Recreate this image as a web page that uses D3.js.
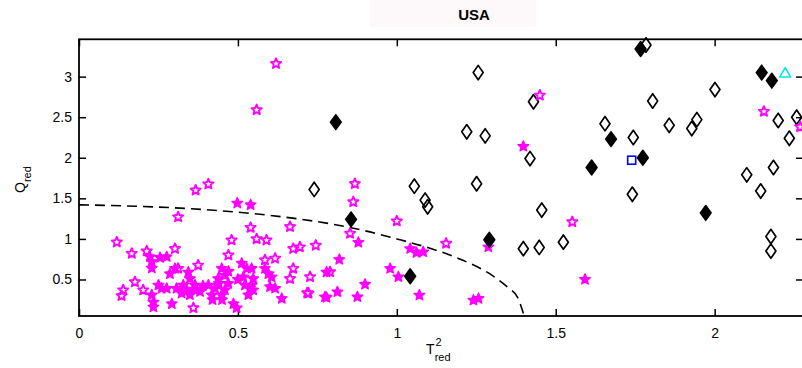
<!DOCTYPE html>
<html><head><meta charset="utf-8">
<script src="https://cdn.jsdelivr.net/npm/d3@7"></script>
<style>
body{margin:0;background:#fff;}
svg text{font-family:"Liberation Sans",Arial,Helvetica,sans-serif;fill:#000;}
</style>
</head><body>
<svg id="chart" width="802" height="368"></svg>
<script>
// ---------------- data ----------------
const chartTitle = "USA";
const xTickValues = [0, 0.5, 1, 1.5, 2];
const xTickLabels = ["0", "0.5", "1", "1.5", "2"];
const yTickValues = [0.5, 1, 1.5, 2, 2.5, 3];
const yTickLabels = ["0.5", "1", "1.5", "2", "2.5", "3"];

// control limit curve
const limitX = [0, 0.2, 0.4, 0.6, 0.8, 0.9, 1.0, 1.1, 1.2, 1.3, 1.35, 1.38, 1.40];
const limitY = [1.42, 1.40, 1.36, 1.29, 1.18, 1.10, 1.00, 0.89, 0.75, 0.55, 0.40, 0.28, 0.06];

// magenta stars, open
const openStars = [
  [0.62,3.16],[0.559,2.59],[0.407,1.676],[0.367,1.60],[0.312,1.27],[0.664,1.15],
  [0.868,1.68],[0.863,1.457],[1.0,1.22],[0.853,1.067],[1.155,0.944],[0.745,0.92],
  [0.727,0.532],[0.79,0.594],[0.718,0.334],[1.45,2.77],[2.155,2.57],[1.552,1.21],
  [0.119,0.96],[0.166,0.82],[0.213,0.85],[0.302,0.88],[0.48,0.985],[0.47,0.80],
  [0.674,0.88],[0.695,0.90],[0.139,0.37],[0.134,0.30],[0.176,0.47],[0.202,0.37],
  [0.312,0.635],[0.375,0.675],[0.36,0.15],[0.674,0.635],[0.664,0.51],[0.722,0.33],
  [0.617,0.76],[0.585,0.74],[0.59,0.985],[0.559,1.0],[2.269,2.38],[0.54,1.14]
];
// magenta stars, filled
const filledStars = [
  [0.498,1.44],[0.54,1.42],[1.398,2.14],[1.592,0.50],[0.879,0.956],[0.819,0.746],
  [0.9,0.44],[0.779,0.278],[0.813,0.347],[0.876,0.285],[1.042,0.88],[1.062,0.83],
  [1.083,0.84],[1.071,0.306],[1.241,0.244],[1.257,0.265],[0.979,0.635],[1.005,0.532],
  [1.288,0.90],[0.638,0.265],[0.774,0.285],[0.779,0.59],[0.548,0.51],[0.543,0.43],
  [0.548,0.37],[0.601,0.41],[0.617,0.39],[0.606,0.53],[0.543,0.635],[0.585,0.635],
  [0.596,0.57],[0.223,0.78],[0.229,0.72],[0.229,0.64],[0.255,0.77],[0.276,0.78],
  [0.286,0.57],[0.302,0.635],[0.229,0.31],[0.234,0.22],[0.234,0.16],[0.25,0.43],
  [0.26,0.39],[0.276,0.39],[0.292,0.20],[0.307,0.39],[0.344,0.59],[0.349,0.51],
  [0.328,0.43],[0.323,0.33],[0.349,0.31],[0.365,0.43],[0.381,0.35],[0.407,0.43],
  [0.428,0.39],[0.418,0.31],[0.449,0.635],[0.459,0.55],[0.438,0.51],[0.47,0.45],
  [0.459,0.37],[0.449,0.31],[0.486,0.20],[0.496,0.15],[0.512,0.70],[0.528,0.635],
  [0.517,0.53],[0.522,0.43],[0.538,0.39],[0.533,0.31],[0.44,0.45],[0.47,0.60],
  [0.39,0.42],[0.50,0.50],[0.42,0.25],[0.45,0.25],[0.36,0.38],[0.34,0.36]
];
// black diamonds, open
const openDiamonds = [
  [1.256,3.05],[1.43,2.69],[1.22,2.32],[1.278,2.27],[1.419,1.99],[0.74,1.61],
  [1.055,1.65],[1.251,1.68],[1.089,1.478],[1.097,1.396],[1.456,1.355],[1.398,0.88],
  [1.448,0.895],[1.784,3.39],[2.001,2.84],[1.805,2.70],[2.258,2.50],[2.2,2.46],
  [1.655,2.42],[1.857,2.40],[1.944,2.47],[1.928,2.36],[1.744,2.25],[2.235,2.24],
  [2.185,1.88],[2.101,1.79],[2.145,1.59],[1.741,1.55],[1.524,0.96],[2.177,1.03],
  [2.177,0.85]
];
// black diamonds, filled
const filledDiamonds = [
  [0.808,2.44],[0.856,1.24],[1.291,0.99],[1.042,0.54],[1.767,3.34],[2.148,3.05],
  [2.18,2.95],[1.674,2.23],[1.774,2.0],[1.613,1.88],[1.972,1.32]
];
const blueSquares = [[1.739,1.97]];
const cyanTriangles = [[2.222,3.05]];

// ---------------- drawing ----------------
const svg = d3.select("#chart");
const L = 79, R = 803, T = 39.3, B = 316;
const x = d3.scaleLinear().domain([0, 2.278]).range([L, R]);
const y = d3.scaleLinear().domain([0.05, 3.46]).range([B, T]);

// title with faint background
svg.append("rect").attr("x",370).attr("y",0).attr("width",166).attr("height",27).attr("fill","#fdf8f9");
svg.append("text").attr("x",474).attr("y",20).attr("text-anchor","middle")
  .attr("font-size",15).attr("font-weight","bold").text(chartTitle);

// axes (box with inward ticks)
const tickLen = 7;
const axB = d3.axisBottom(x).tickValues(xTickValues).tickFormat((d,i)=>xTickLabels[i]).tickSize(-tickLen).tickPadding(12);
const axT = d3.axisTop(x).tickValues(xTickValues).tickFormat("").tickSize(-tickLen);
const axL = d3.axisLeft(y).tickValues(yTickValues).tickFormat((d,i)=>yTickLabels[i]).tickSize(-tickLen).tickPadding(7);
const axR = d3.axisRight(y).tickValues(yTickValues).tickFormat("").tickSize(-tickLen);

function styleAxis(g){
  g.select(".domain").remove();
  g.selectAll(".tick line").attr("stroke","#000").attr("stroke-width",1.5);
  g.selectAll(".tick text").attr("font-size",14).attr("fill","#000")
    .attr("font-family","'Liberation Sans',Arial,sans-serif");
}
svg.append("g").attr("transform",`translate(0,${B})`).call(axB).call(styleAxis);
svg.append("g").attr("transform",`translate(0,${T})`).call(axT).call(styleAxis);
svg.append("g").attr("transform",`translate(${L},0)`).call(axL).call(styleAxis);
svg.append("g").attr("transform",`translate(${R},0)`).call(axR).call(styleAxis);

svg.append("rect").attr("x",L).attr("y",T).attr("width",R-L).attr("height",B-T)
  .attr("fill","none").attr("stroke","#000").attr("stroke-width",1.8);

// limit curve
const limitPts = limitX.map((v,i)=>[v, limitY[i]]);
svg.append("path").datum(limitPts)
  .attr("d", d3.line().x(d=>x(d[0])).y(d=>y(d[1])).curve(d3.curveMonotoneX))
  .attr("fill","none").attr("stroke","#000").attr("stroke-width",1.6)
  .attr("stroke-dasharray","10,6");

// marker shapes
function starPath(Ro, Ri){
  let s = "";
  for (let k=0;k<10;k++){
    const r = k%2===0 ? Ro : Ri;
    const a = -Math.PI/2 + k*Math.PI/5;
    s += (k===0?"M":"L") + (r*Math.cos(a)).toFixed(2) + "," + (r*Math.sin(a)).toFixed(2);
  }
  return s + "Z";
}
function diamondPath(w,h){ return `M0,${-h}L${w},0L0,${h}L${-w},0Z`; }

const gm = svg.append("g");
function place(sel){ return sel.attr("transform", d=>`translate(${x(d[0])},${y(d[1])})`); }

place(gm.selectAll(".od").data(openDiamonds).enter().append("path").attr("class","od"))
  .attr("d", diamondPath(5,7.2)).attr("fill","none").attr("stroke","#000")
  .attr("stroke-width",1.7).attr("stroke-linejoin","round");

place(gm.selectAll(".os").data(openStars).enter().append("path").attr("class","os"))
  .attr("d", starPath(5.3,2.4)).attr("fill","none").attr("stroke","#ff00ff")
  .attr("stroke-width",1.9).attr("stroke-linejoin","round");

place(gm.selectAll(".fs").data(filledStars).enter().append("path").attr("class","fs"))
  .attr("d", starPath(5.6,2.6)).attr("fill","#ff00ff").attr("stroke","#ff00ff")
  .attr("stroke-width",1.3).attr("stroke-linejoin","round");

place(gm.selectAll(".fd").data(filledDiamonds).enter().append("path").attr("class","fd"))
  .attr("d", diamondPath(5.5,7.5)).attr("fill","#000").attr("stroke","#000")
  .attr("stroke-width",1.4).attr("stroke-linejoin","round");

place(gm.selectAll(".sq").data(blueSquares).enter().append("rect").attr("class","sq"))
  .attr("x",-4).attr("y",-4).attr("width",8).attr("height",8)
  .attr("fill","none").attr("stroke","#0000ff").attr("stroke-width",1.6);

place(gm.selectAll(".tr").data(cyanTriangles).enter().append("path").attr("class","tr"))
  .attr("d","M0,-5L5.5,4.5L-5.5,4.5Z").attr("fill","none").attr("stroke","#00e5ee")
  .attr("stroke-width",1.6).attr("stroke-linejoin","round");

// axis labels
const xl = svg.append("text").attr("x",426).attr("y",354).attr("font-size",14);
xl.append("tspan").text("T");
xl.append("tspan").attr("font-size",11).attr("dy",-8).attr("dx",1).text("2");
xl.append("tspan").attr("font-size",11).attr("dy",15).attr("dx",-7).text("red");

const yl = svg.append("text").attr("transform","translate(25,193) rotate(-90)").attr("font-size",14);
yl.append("tspan").text("Q");
yl.append("tspan").attr("font-size",11).attr("dy",6).text("red");
</script>
</body></html>
